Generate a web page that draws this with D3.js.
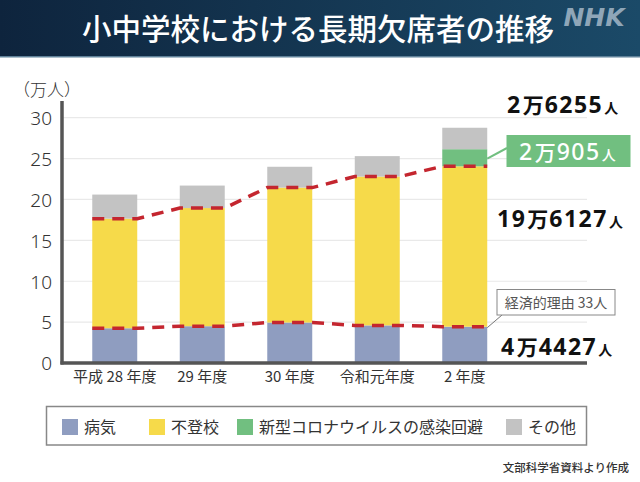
<!DOCTYPE html>
<html>
<head>
<meta charset="utf-8">
<script src="https://cdn.jsdelivr.net/npm/d3@7"></script>
<style>
  body { margin: 0; background: #fff; }
  svg { display: block; font-family: "Noto Sans CJK JP", "Noto Sans", sans-serif; }
</style>
</head>
<body>
<div class="chart"></div>
<script>
// values in 万人
var years = ["平成 28 年度", "29 年度", "30 年度", "令和元年度", "2 年度"];
var byoki = [4.25, 4.5, 4.95, 4.6, 4.4427];
var futoko = [13.4, 14.45, 16.5, 18.2, 19.6127];
var corona = [0, 0, 0, 0, 2.0905];
var sonota = [2.95, 2.75, 2.55, 2.5, 2.6255];
var yTicks = [0, 5, 10, 15, 20, 25, 30];

var seriesKeys = ["byoki", "futoko", "corona", "sonota"];
var seriesNames = ["病気", "不登校", "新型コロナウイルスの感染回避", "その他"];
var seriesColors = ["#8f9dc0", "#f6da4a", "#71bf80", "#c3c3c3"];

function loadChart() {
  var svg = d3.select(".chart").append("svg")
    .attr("width", 640)
    .attr("height", 482);

  drawHeader(svg);
  drawBars(svg);
  drawLegend(svg);
}

function drawHeader(svg) {
  var grad = svg.append("defs").append("linearGradient")
    .attr("id", "hdr").attr("x1", "0").attr("x2", "1").attr("y1", "0").attr("y2", "0");
  grad.append("stop").attr("offset", "0").attr("stop-color", "#0e243d");
  grad.append("stop").attr("offset", "1").attr("stop-color", "#1b4a68");

  svg.append("rect").attr("x", 0).attr("y", 0).attr("width", 640).attr("height", 57)
    .attr("fill", "url(#hdr)");
  svg.append("rect").attr("x", 0).attr("y", 56).attr("width", 640).attr("height", 1.5)
    .attr("fill", "#5f8199");

  svg.append("text").attr("x", 318).attr("y", 40)
    .attr("text-anchor", "middle").attr("fill", "#fff")
    .style("font-size", "29.5px").style("font-weight", 500)
    .text("小中学校における長期欠席者の推移");

  svg.append("text").attr("x", 594).attr("y", 26)
    .attr("text-anchor", "middle").attr("fill", "#8fa6b8")
    .style("font-family", "'DejaVu Sans', sans-serif")
    .style("font-size", "25px").style("font-weight", "bold").style("font-style", "italic")
    .text("NHK");
}

function drawBars(svg) {
  var rows = years.map(function (y, i) {
    return { year: y, byoki: byoki[i], futoko: futoko[i], corona: corona[i], sonota: sonota[i] };
  });

  var x = d3.scaleBand().domain(years).range([71, 508.5])
    .paddingInner(0.486).paddingOuter(0.243);
  var y = d3.scaleLinear().domain([0, 30]).range([363, 117.7]);

  // grid
  svg.append("g").selectAll("line").data(yTicks.slice(1)).enter().append("line")
    .attr("x1", 63).attr("x2", 587)
    .attr("y1", function (d) { return y(d); }).attr("y2", function (d) { return y(d); })
    .attr("stroke", "#e9e9e9").attr("stroke-width", 1.2);

  // stacked bars
  var stack = d3.stack().keys(seriesKeys)(rows);
  svg.append("g").selectAll("g").data(stack).enter().append("g")
    .attr("fill", function (d, i) { return seriesColors[i]; })
    .selectAll("rect").data(function (d) { return d; }).enter().append("rect")
    .attr("x", function (d) { return x(d.data.year); })
    .attr("width", x.bandwidth())
    .attr("y", function (d) { return y(d[1]); })
    .attr("height", function (d) { return y(d[0]) - y(d[1]); });

  // red dashed trend lines at tops of 病気 and 不登校
  var line = d3.line().x(function (d) { return d[0]; }).y(function (d) { return d[1]; });
  [stack[0], stack[1]].forEach(function (s) {
    var pts = [];
    s.forEach(function (d) {
      pts.push([x(d.data.year), y(d[1])]);
      pts.push([x(d.data.year) + x.bandwidth(), y(d[1])]);
    });
    svg.append("path").attr("d", line(pts))
      .attr("fill", "none").attr("stroke", "#c4262f")
      .attr("stroke-width", 3.5).attr("stroke-dasharray", "12,8");
  });

  // axes
  var yAxis = svg.append("g").attr("transform", "translate(62,0)")
    .call(d3.axisLeft(y).tickValues(yTicks).tickSize(0).tickPadding(10));
  yAxis.select(".domain").remove();
  yAxis.selectAll("text").attr("fill", "#333")
    .style("font-family", "'Noto Sans', sans-serif")
    .style("font-size", "19px").style("font-weight", 300).attr("dy", "0.36em");

  svg.append("line").attr("x1", 62).attr("x2", 62).attr("y1", 101).attr("y2", 364.5)
    .attr("stroke", "#555").attr("stroke-width", 3.5);
  svg.append("line").attr("x1", 60.5).attr("x2", 587).attr("y1", 363).attr("y2", 363)
    .attr("stroke", "#555").attr("stroke-width", 3.5);

  var xAxis = svg.append("g").attr("transform", "translate(0,365)")
    .call(d3.axisBottom(x).tickSize(0).tickPadding(6));
  xAxis.select(".domain").remove();
  xAxis.selectAll("text").attr("fill", "#333")
    .style("font-family", "'Noto Sans CJK JP', sans-serif")
    .style("font-size", "15px");

  svg.append("text").attr("x", 13).attr("y", 96)
    .attr("fill", "#333").style("font-size", "17px").style("font-weight", 300).text("（万人）");

  // annotations
  var last = rows[rows.length - 1];
  var lx = x(last.year) + x.bandwidth();

  bigLabel(svg, 507, 113, "2", "万", "6255", "#111", true);

  svg.append("line").attr("x1", lx).attr("y1", y(last.byoki + last.futoko + last.corona * 0.45))
    .attr("x2", 507).attr("y2", 148).attr("stroke", "#71bf80").attr("stroke-width", 2);
  svg.append("rect").attr("x", 506.5).attr("y", 135).attr("width", 124).attr("height", 32)
    .attr("fill", "#71bf80");
  bigLabel(svg, 519, 159.5, "2", "万", "905", "#fff", false);

  bigLabel(svg, 497, 227, "19", "万", "6127", "#111", true);

  svg.append("line").attr("x1", lx).attr("y1", y(last.byoki) + 1)
    .attr("x2", 502).attr("y2", 315).attr("stroke", "#777").attr("stroke-width", 1);
  svg.append("rect").attr("x", 497).attr("y", 289.5).attr("width", 118).attr("height", 25.5)
    .attr("fill", "#fff").attr("stroke", "#888").attr("stroke-width", 1);
  svg.append("text").attr("x", 556).attr("y", 308).attr("text-anchor", "middle")
    .attr("fill", "#555").style("font-size", "14px").text("経済的理由 33人");

  bigLabel(svg, 501, 355, "4", "万", "4427", "#111", true);
}

function bigLabel(svg, x0, y0, a, man, b, color, bold) {
  var t = svg.append("text").attr("x", x0).attr("y", y0).attr("fill", color)
    .style("font-weight", bold ? 700 : 500);
  t.append("tspan").style("font-size", "23px").style("letter-spacing", "1.5px")
    .style("font-family", "'Noto Sans', sans-serif").text(a);
  t.append("tspan").style("font-size", "21px").attr("dx", 1).text(man);
  t.append("tspan").style("font-size", "23px").style("letter-spacing", "1.5px")
    .style("font-family", "'Noto Sans', sans-serif").attr("dx", 1).text(b);
  t.append("tspan").style("font-size", "14px").attr("dx", 1).text("人");
}

function drawLegend(svg) {
  svg.append("rect").attr("x", 46.5).attr("y", 406.5).attr("width", 540).attr("height", 38.5)
    .attr("fill", "#fff").attr("stroke", "#888").attr("stroke-width", 1.5);

  var itemX = [62, 149, 237, 506];
  var items = svg.append("g").selectAll("g").data(seriesNames).enter().append("g")
    .attr("transform", function (d, i) { return "translate(" + itemX[i] + ",419)"; });
  items.append("rect").attr("width", 16).attr("height", 16)
    .attr("fill", function (d, i) { return seriesColors[i]; });
  items.append("text").attr("x", 22).attr("y", 14)
    .attr("fill", "#333").style("font-size", "16px")
    .text(function (d) { return d; });

  svg.append("text").attr("x", 629).attr("y", 472).attr("text-anchor", "end")
    .attr("fill", "#333").style("font-size", "11.5px").style("font-weight", 500)
    .text("文部科学省資料より作成");
}

loadChart();
</script>
</body>
</html>
